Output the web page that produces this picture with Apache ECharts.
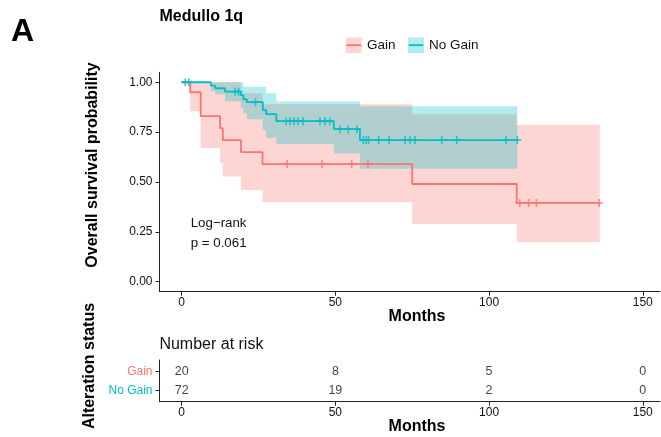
<!DOCTYPE html>
<html>
<head>
<meta charset="utf-8">
<style>
  html, body { margin: 0; padding: 0; background: #fff; }
  #chart { width: 661px; height: 437px; }
</style>
<script src="https://cdn.jsdelivr.net/npm/echarts@6/dist/echarts.min.js"></script>
</head>
<body>
<div id="chart"></div>
<script>
// Kaplan-Meier estimates, Medullo 1q (months)
const gainTimes  = [0, 2.8, 6.2, 12.5, 13.4, 19.3, 26.3, 75, 109];
const gainSurv   = [1, 0.95, 0.83, 0.77, 0.71, 0.65, 0.59, 0.49, 0.395];
const gainUpper  = [1, 1, 1, 1, 1, 0.945, 0.89, 0.84, 0.786];
const gainLower  = [1, 0.855, 0.67, 0.595, 0.528, 0.46, 0.398, 0.29, 0.198];
const gainEnd    = 136;
const gainCensor = [34.3, 45.7, 55.3, 60.6, 110, 112.9, 115.4, 135.8];

const noGainTimes  = [0, 9.5, 10.9, 14.1, 19.2, 20.1, 21.2, 26.4, 27.5, 30.8, 49.5, 58];
const noGainSurv   = [1, 0.983, 0.97, 0.953, 0.936, 0.915, 0.90, 0.86, 0.84, 0.805, 0.765, 0.71];
const noGainUpper  = [1, 1, 1, 1, 1, 0.978, 0.978, 0.978, 0.945, 0.903, 0.903, 0.88];
const noGainLower  = [1, 0.955, 0.94, 0.905, 0.87, 0.845, 0.815, 0.76, 0.72, 0.69, 0.643, 0.567];
const noGainEnd    = 109.2;
const noGainCensor = [1.2, 2.3, 17.4, 18.5, 24, 34, 35.3, 36.6, 37.8, 39.5, 45, 46.6, 48.2,
                      51.5, 54.2, 57, 59.1, 60, 60.8, 64.1, 67.5, 72.7, 74.3, 75.9, 84.6, 89.5, 105.5, 109.2];

// Number at risk table
const riskTimes    = [0, 50, 100, 150];
const gainAtRisk   = [20, 8, 5, 0];
const noGainAtRisk = [72, 19, 2, 0];

// Axis ticks
const survTicks  = [0, 0.25, 0.5, 0.75, 1];
const monthTicks = [0, 50, 100, 150];

const RED = '#F8766D';
const TEAL = '#00BFC4';
const FONT = '"Liberation Sans", Arial, sans-serif';

function stepLine(times, surv, end) {
  const pts = times.map((t, i) => [t, surv[i]]);
  pts.push([end, surv[surv.length - 1]]);
  return pts;
}
function survAt(times, surv, t) {
  let v = surv[0];
  for (let i = 0; i < times.length; i++) if (times[i] <= t) v = surv[i];
  return v;
}
function censorPoints(list, times, surv) {
  return list.map(t => [t, survAt(times, surv, t)]);
}
// confidence band as one stepped polygon
function bandSeries(times, upper, lower, end, color) {
  return {
    type: 'custom', xAxisIndex: 0, yAxisIndex: 0, silent: true,
    data: [[0, 0]],
    renderItem: function (params, api) {
      const edges = times.concat([end]);
      const pts = [];
      for (let i = 0; i < times.length; i++) {
        pts.push(api.coord([edges[i], upper[i]]));
        pts.push(api.coord([edges[i + 1], upper[i]]));
      }
      for (let i = times.length - 1; i >= 0; i--) {
        pts.push(api.coord([edges[i + 1], lower[i]]));
        pts.push(api.coord([edges[i], lower[i]]));
      }
      return { type: 'polygon', shape: { points: pts }, style: { fill: color, opacity: 0.3 } };
    }
  };
}
const PLUS = 'path://M4,0H6V4H10V6H6V10H4V6H0V4H4Z';

const axisLineStyle = { show: true, onZero: false, lineStyle: { color: '#222', width: 1 } };
const tickStyle = { show: true, length: 4, lineStyle: { color: '#222', width: 1 } };
const labelText = { color: '#111', fontSize: 12, fontFamily: FONT };

const chart = echarts.init(document.getElementById('chart'), null, { renderer: 'canvas' });
chart.setOption({
  animation: false,
  backgroundColor: '#fff',
  grid: [
    { left: 159.5, top: 72.3, width: 500.5, height: 219.4 },
    { left: 159.5, top: 360, width: 500.5, height: 41.7 }
  ],
  xAxis: [
    { gridIndex: 0, type: 'value', min: -7.2, max: 155.6, splitLine: { show: false },
      axisLine: axisLineStyle,
      axisTick: Object.assign({ customValues: monthTicks }, tickStyle),
      axisLabel: Object.assign({ customValues: monthTicks, margin: 5 }, labelText) },
    { gridIndex: 1, type: 'value', min: -7.2, max: 155.6, splitLine: { show: false },
      axisLine: axisLineStyle,
      axisTick: Object.assign({ customValues: monthTicks }, tickStyle),
      axisLabel: Object.assign({ customValues: monthTicks, margin: 5 }, labelText) }
  ],
  yAxis: [
    { gridIndex: 0, type: 'value', min: -0.05, max: 1.05, splitLine: { show: false },
      axisLine: axisLineStyle,
      axisTick: Object.assign({ customValues: survTicks }, tickStyle),
      axisLabel: Object.assign({ customValues: survTicks, margin: 7,
        formatter: v => v.toFixed(2) }, labelText) },
    { gridIndex: 1, type: 'value', min: 0.4, max: 2.6, splitLine: { show: false },
      axisLine: axisLineStyle,
      axisTick: Object.assign({ customValues: [1, 2] }, tickStyle),
      axisLabel: { customValues: [1, 2], margin: 7, fontSize: 12, fontFamily: FONT,
        formatter: v => (v === 2 ? '{g|Gain}' : '{n|No Gain}'),
        rich: { g: { color: RED, fontSize: 12, fontFamily: FONT },
                n: { color: TEAL, fontSize: 12, fontFamily: FONT } } } }
  ],
  series: [
    bandSeries(gainTimes, gainUpper, gainLower, gainEnd, RED),
    bandSeries(noGainTimes, noGainUpper, noGainLower, noGainEnd, TEAL),
    { type: 'line', step: 'end', data: stepLine(gainTimes, gainSurv, gainEnd),
      showSymbol: false, lineStyle: { color: RED, width: 1.8 }, silent: true },
    { type: 'line', step: 'end', data: stepLine(noGainTimes, noGainSurv, noGainEnd),
      showSymbol: false, lineStyle: { color: TEAL, width: 1.8 }, silent: true },
    { type: 'scatter', data: censorPoints(gainCensor, gainTimes, gainSurv),
      symbol: PLUS, symbolSize: 8, itemStyle: { color: RED }, silent: true },
    { type: 'scatter', data: censorPoints(noGainCensor, noGainTimes, noGainSurv),
      symbol: PLUS, symbolSize: 8, itemStyle: { color: TEAL }, silent: true },
    { type: 'scatter', xAxisIndex: 1, yAxisIndex: 1, symbolSize: 0, silent: true,
      data: riskTimes.map((t, i) => [t, 2, gainAtRisk[i]]),
      label: { show: true, position: 'inside', formatter: p => String(p.data[2]),
        color: '#111', fontSize: 12.5, fontFamily: FONT } },
    { type: 'scatter', xAxisIndex: 1, yAxisIndex: 1, symbolSize: 0, silent: true,
      data: riskTimes.map((t, i) => [t, 1, noGainAtRisk[i]]),
      label: { show: true, position: 'inside', formatter: p => String(p.data[2]),
        color: '#111', fontSize: 12.5, fontFamily: FONT } }
  ],
  graphic: [
    { type: 'text', left: 11, top: 16, style: { text: 'A', font: 'bold 32px ' + FONT, fill: '#000' } },
    { type: 'text', x: 159.5, y: 17, style: { text: 'Medullo 1q', font: 'bold 16px ' + FONT,
      fill: '#000', verticalAlign: 'middle' } },
    // legend keys
    { type: 'rect', shape: { x: 345.7, y: 37.5, width: 16, height: 15.5 }, style: { fill: RED, opacity: 0.3 } },
    { type: 'line', shape: { x1: 346.5, y1: 45.2, x2: 361, y2: 45.2 }, style: { stroke: RED, lineWidth: 1.8 } },
    { type: 'text', x: 367, y: 45, style: { text: 'Gain', font: '13.5px ' + FONT, fill: '#111', verticalAlign: 'middle' } },
    { type: 'rect', shape: { x: 408, y: 37.5, width: 16, height: 15.5 }, style: { fill: TEAL, opacity: 0.3 } },
    { type: 'line', shape: { x1: 408.8, y1: 45.2, x2: 423.2, y2: 45.2 }, style: { stroke: TEAL, lineWidth: 1.8 } },
    { type: 'text', x: 429, y: 45, style: { text: 'No Gain', font: '13.5px ' + FONT, fill: '#111', verticalAlign: 'middle' } },
    // axis titles
    { type: 'text', x: 92.5, y: 165, rotation: Math.PI / 2,
      style: { text: 'Overall survival probability', font: 'bold 16px ' + FONT, fill: '#000',
        align: 'center', verticalAlign: 'middle' } },
    { type: 'text', x: 417, y: 317, style: { text: 'Months', font: 'bold 16px ' + FONT, fill: '#000',
      align: 'center', verticalAlign: 'middle' } },
    { type: 'text', x: 90, y: 366, rotation: Math.PI / 2,
      style: { text: 'Alteration status', font: 'bold 16px ' + FONT, fill: '#000',
        align: 'center', verticalAlign: 'middle' } },
    { type: 'text', x: 417, y: 426.7, style: { text: 'Months', font: 'bold 16px ' + FONT, fill: '#000',
      align: 'center', verticalAlign: 'middle' } },
    // test annotation
    { type: 'text', x: 190.7, y: 223.3, style: { text: 'Log\u2212rank', font: '13.3px ' + FONT, fill: '#111',
      verticalAlign: 'middle' } },
    { type: 'text', x: 190.7, y: 243.3, style: { text: 'p = 0.061', font: '13.3px ' + FONT, fill: '#111',
      verticalAlign: 'middle' } },
    { type: 'text', x: 159.4, y: 345, style: { text: 'Number at risk', font: '16px ' + FONT, fill: '#111',
      verticalAlign: 'middle' } }
  ]
});
</script>
</body>
</html>
